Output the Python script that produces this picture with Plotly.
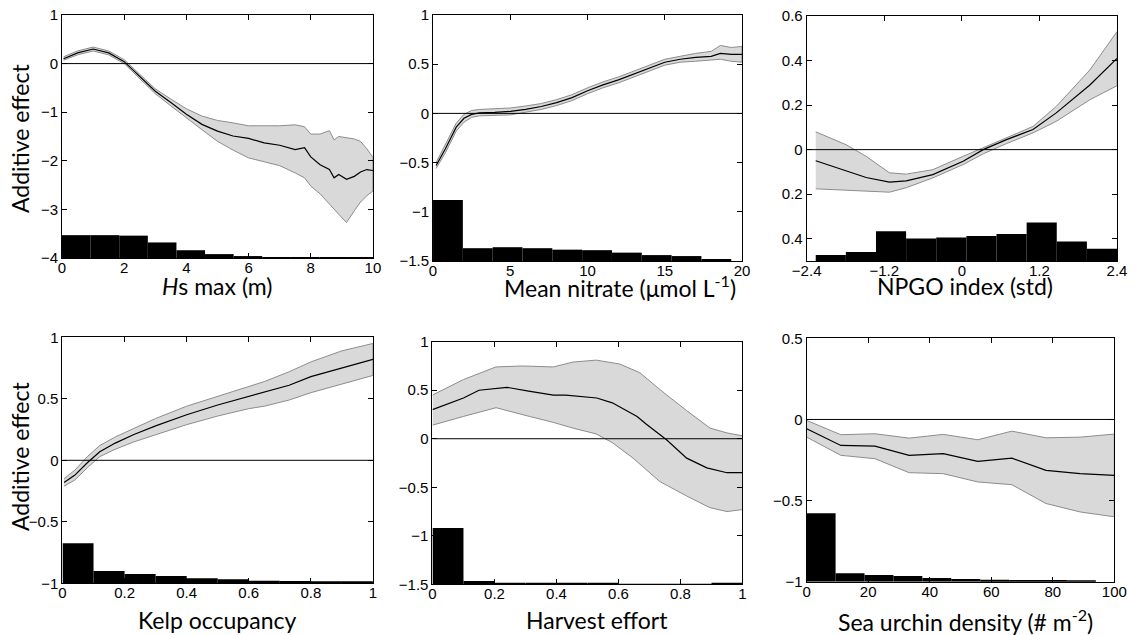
import plotly.graph_objects as go

# ---------------- Hs max (m) ----------------
hs_x = [0.05, 0.5, 1.0, 1.5, 2.0, 2.5, 3.0, 3.5, 4.0, 4.5, 5.0, 5.5, 6.0, 6.5,
        7.0, 7.5, 7.8, 8.0, 8.3, 8.6, 8.75, 8.9, 9.15, 9.4, 9.6, 9.8, 10.0]
hs_fit = [0.10, 0.22, 0.30, 0.22, 0.04, -0.26, -0.57, -0.80, -1.04, -1.25, -1.39, -1.49,
          -1.54, -1.63, -1.68, -1.77, -1.73, -1.92, -2.08, -2.18, -2.35, -2.28, -2.38,
          -2.32, -2.23, -2.18, -2.20]
hs_up = [0.14, 0.26, 0.34, 0.26, 0.08, -0.22, -0.52, -0.73, -0.93, -1.08, -1.17, -1.22,
         -1.28, -1.28, -1.28, -1.26, -1.30, -1.45, -1.45, -1.38, -1.57, -1.50, -1.52,
         -1.55, -1.60, -1.75, -1.93]
hs_lo = [0.07, 0.18, 0.26, 0.18, 0.00, -0.30, -0.62, -0.87, -1.12, -1.36, -1.60, -1.78,
         -1.94, -2.02, -2.10, -2.25, -2.35, -2.52, -2.68, -2.90, -3.00, -3.10, -3.27,
         -3.03, -2.85, -2.72, -2.62]
hs_bin_mid = [0.46, 1.38, 2.30, 3.22, 4.14, 5.06, 5.98, 6.90, 7.82, 8.74, 9.66]
hs_bin_top = [-3.53, -3.53, -3.54, -3.68, -3.84, -3.92, -3.96, -3.98, -3.985, -3.99, -3.995]

# ---------------- Mean nitrate ----------------
no3_x = [0.2, 0.8, 1.5, 2.0, 2.5, 3.0, 4.0, 5.0, 6.0, 7.0, 8.0, 9.0, 10.0, 11.0, 12.0,
         13.0, 14.0, 15.0, 16.0, 17.0, 18.0, 18.6, 19.3, 20.0]
no3_fit = [-0.53, -0.36, -0.14, -0.05, -0.01, 0.005, 0.01, 0.02, 0.04, 0.07, 0.11, 0.16,
           0.23, 0.29, 0.34, 0.40, 0.46, 0.52, 0.55, 0.57, 0.58, 0.61, 0.60, 0.60]
no3_up = [-0.50, -0.32, -0.10, -0.01, 0.03, 0.04, 0.05, 0.055, 0.075, 0.10, 0.14, 0.19,
          0.26, 0.32, 0.37, 0.43, 0.49, 0.55, 0.58, 0.61, 0.63, 0.69, 0.67, 0.68]
no3_lo = [-0.56, -0.40, -0.18, -0.09, -0.04, -0.025, -0.02, -0.015, 0.01, 0.04, 0.08, 0.13,
          0.20, 0.26, 0.31, 0.37, 0.43, 0.49, 0.52, 0.53, 0.54, 0.55, 0.53, 0.52]
no3_bin_mid = [0.965, 2.895, 4.825, 6.755, 8.685, 10.615, 12.545, 14.475, 16.405, 18.335]
no3_bin_top = [-0.88, -1.37, -1.36, -1.37, -1.385, -1.39, -1.415, -1.44, -1.45, -1.48]

# ---------------- NPGO index ----------------
npgo_x = [-2.26, -1.79, -1.48, -1.12, -0.86, -0.45, 0.02, 0.33, 0.69, 1.10, 1.46, 1.98, 2.40]
npgo_fit = [-0.05, -0.097, -0.125, -0.146, -0.14, -0.112, -0.052, 0.0, 0.045, 0.09,
            0.165, 0.29, 0.41]
npgo_up = [0.08, 0.022, -0.03, -0.104, -0.11, -0.09, -0.03, 0.008, 0.055, 0.104,
           0.194, 0.358, 0.53]
npgo_lo = [-0.176, -0.18, -0.186, -0.191, -0.171, -0.127, -0.067, -0.019, 0.027, 0.075,
           0.127, 0.224, 0.287]
npgo_bin_mid = [-2.027, -1.561, -1.095, -0.629, -0.163, 0.303, 0.769, 1.235, 1.701, 2.167]
npgo_bin_top = [-0.473, -0.46, -0.367, -0.399, -0.394, -0.388, -0.379, -0.327, -0.412, -0.445]
npgo_ticks = [0.6, 0.4, 0.2, 0, -0.2, -0.4]
npgo_tick_text = ["0.6", "0.4", "0.2", "0", "0.2", "0.4"]

# ---------------- Kelp occupancy ----------------
kelp_x = [0.005, 0.04, 0.08, 0.12, 0.17, 0.23, 0.30, 0.40, 0.50, 0.60, 0.65, 0.73, 0.80,
          0.90, 1.0]
kelp_fit = [-0.18, -0.12, -0.02, 0.07, 0.14, 0.21, 0.28, 0.37, 0.45, 0.52, 0.55, 0.61,
            0.68, 0.75, 0.82]
kelp_up = [-0.15, -0.08, 0.03, 0.12, 0.19, 0.26, 0.34, 0.44, 0.52, 0.60, 0.64, 0.72,
           0.80, 0.89, 0.95]
kelp_lo = [-0.21, -0.16, -0.06, 0.03, 0.09, 0.15, 0.21, 0.29, 0.36, 0.42, 0.44, 0.49,
           0.55, 0.62, 0.69]
kelp_bin_mid = [0.05, 0.15, 0.25, 0.35, 0.45, 0.55, 0.65, 0.75, 0.85, 0.95]
kelp_bin_top = [-0.675, -0.90, -0.924, -0.94, -0.959, -0.967, -0.979, -0.981, -0.99, -0.99]

# ---------------- Harvest effort ----------------
harv_x = [0.0, 0.10, 0.15, 0.24, 0.31, 0.39, 0.43, 0.53, 0.58, 0.66, 0.69, 0.755, 0.82,
          0.885, 0.95, 1.0]
harv_fit = [0.30, 0.42, 0.50, 0.53, 0.49, 0.45, 0.45, 0.42, 0.37, 0.23, 0.15, -0.01,
            -0.20, -0.30, -0.35, -0.35]
harv_up_x = [0.0, 0.10, 0.205, 0.29, 0.39, 0.453, 0.528, 0.604, 0.669, 0.744, 0.82,
             0.895, 0.95, 1.0]
harv_up = [0.45, 0.61, 0.74, 0.75, 0.74, 0.79, 0.81, 0.77, 0.68, 0.48, 0.29, 0.11, 0.06, 0.03]
harv_lo_x = [0.0, 0.10, 0.205, 0.313, 0.388, 0.453, 0.528, 0.58, 0.647, 0.733, 0.82,
             0.895, 0.95, 1.0]
harv_lo = [0.14, 0.23, 0.32, 0.23, 0.17, 0.11, 0.05, -0.04, -0.20, -0.44, -0.59, -0.71,
           -0.75, -0.73]
harv_bin_mid = [0.05, 0.15, 0.25, 0.35, 0.45, 0.55, 0.65, 0.75, 0.85, 0.95]
harv_bin_top = [-0.92, -1.467, -1.49, -1.49, -1.492, -1.493, -1.494, -1.495, -1.495, -1.49]

# ---------------- Sea urchin density ----------------
urch_x = [0, 11.1, 22.2, 33.3, 44.4, 55.6, 66.7, 77.8, 88.9, 100]
urch_fit = [-0.057, -0.16, -0.164, -0.221, -0.211, -0.258, -0.238, -0.314, -0.334, -0.344]
urch_up = [-0.006, -0.094, -0.088, -0.115, -0.092, -0.125, -0.072, -0.113, -0.109, -0.09]
urch_lo = [-0.109, -0.221, -0.242, -0.328, -0.334, -0.385, -0.402, -0.518, -0.57, -0.60]
urch_bin_mid = [4.7, 14.1, 23.5, 32.9, 42.3, 51.7, 61.1, 70.5, 79.9, 89.3]
urch_bin_top = [-0.578, -0.948, -0.958, -0.964, -0.977, -0.983, -0.988, -0.99, -0.99, -0.993]

TICK_FONT = dict(family="Liberation Sans, Arial, sans-serif", size=15, color="black")
TITLE_FONT = dict(family="Lato, Open Sans, sans-serif", size=23, color="black")
BAND_FILL = "#d9d9d9"
BAND_EDGE = "#8c8c8c"

panels = [
    dict(x=hs_x, fit=hs_fit, xu=hs_x, up=hs_up, xl=hs_x, lo=hs_lo,
         hx=hs_bin_mid, htop=hs_bin_top, hw=0.92,
         xr=[0, 10], yr=[-4, 1], xt=[0, 2, 4, 6, 8, 10], yt=[1, 0, -1, -2, -3, -4],
         xd=[0.0546, 0.3283], yd=[0.5937, 0.9764],
         title="<i>H</i>s max (m)", tx=217, ty=286),
    dict(x=no3_x, fit=no3_fit, xu=no3_x, up=no3_up, xl=no3_x, lo=no3_lo,
         hx=no3_bin_mid, htop=no3_bin_top, hw=1.93,
         xr=[0, 20], yr=[-1.5, 1], xt=[0, 5, 10, 15, 20], yt=[1, 0.5, 0, -0.5, -1, -1.5],
         xd=[0.3812, 0.6532], yd=[0.589, 0.9764],
         title="Mean nitrate (μmol L<sup>-1</sup>)", tx=620, ty=286),
    dict(x=npgo_x, fit=npgo_fit, xu=npgo_x, up=npgo_up, xl=npgo_x, lo=npgo_lo,
         hx=npgo_bin_mid, htop=npgo_bin_top, hw=0.466,
         xr=[-2.4, 2.4], yr=[-0.5, 0.6], xt=[-2.4, -1.2, 0, 1.2, 2.4], yt=npgo_ticks,
         ytext=npgo_tick_text,
         xd=[0.7101, 0.9833], yd=[0.589, 0.9748],
         title="NPGO index (std)", tx=965, ty=286),
    dict(x=kelp_x, fit=kelp_fit, xu=kelp_x, up=kelp_up, xl=kelp_x, lo=kelp_lo,
         hx=kelp_bin_mid, htop=kelp_bin_top, hw=0.1,
         xr=[0, 1], yr=[-1, 1], xt=[0, 0.2, 0.4, 0.6, 0.8, 1], yt=[1, 0.5, 0, -0.5, -1],
         xd=[0.0550, 0.3283], yd=[0.0814, 0.4688],
         title="Kelp occupancy", tx=217, ty=620),
    dict(x=harv_x, fit=harv_fit, xu=harv_up_x, up=harv_up, xl=harv_lo_x, lo=harv_lo,
         hx=harv_bin_mid, htop=harv_bin_top, hw=0.1,
         xr=[0, 1], yr=[-1.5, 1], xt=[0, 0.2, 0.4, 0.6, 0.8, 1],
         yt=[1, 0.5, 0, -0.5, -1, -1.5],
         xd=[0.3807, 0.6536], yd=[0.0798, 0.4619],
         title="Harvest effort", tx=597, ty=620),
    dict(x=urch_x, fit=urch_fit, xu=urch_x, up=urch_up, xl=urch_x, lo=urch_lo,
         hx=urch_bin_mid, htop=urch_bin_top, hw=9.4,
         xr=[0, 100], yr=[-1, 0.5], xt=[0, 20, 40, 60, 80, 100], yt=[0.5, 0, -0.5, -1],
         xd=[0.7101, 0.9809], yd=[0.0839, 0.4672],
         title="Sea urchin density (# m<sup>-2</sup>)", tx=965, ty=620),
]

W, H = 1136, 635
fig = go.Figure()
shapes = []
annotations = []

for i, p in enumerate(panels):
    n = "" if i == 0 else str(i + 1)
    xa, ya = "x" + n, "y" + n
    base = p["yr"][0]

    # histogram of the covariate along the bottom of the panel
    fig.add_trace(go.Bar(
        x=p["hx"], y=[t - base for t in p["htop"]], base=base, width=p["hw"],
        marker=dict(color="black", line=dict(width=0)),
        xaxis=xa, yaxis=ya, hoverinfo="skip"))

    # confidence band
    fig.add_trace(go.Scatter(
        x=p["xu"] + p["xl"][::-1], y=p["up"] + p["lo"][::-1],
        mode="lines", fill="toself", fillcolor=BAND_FILL,
        line=dict(color=BAND_EDGE, width=1),
        xaxis=xa, yaxis=ya, hoverinfo="skip"))

    # fitted additive effect
    fig.add_trace(go.Scatter(
        x=p["x"], y=p["fit"], mode="lines",
        line=dict(color="black", width=1.2),
        xaxis=xa, yaxis=ya))

    # zero reference line
    shapes.append(dict(type="line", xref=xa + " domain", yref=ya,
                       x0=0, x1=1, y0=0, y1=0, layer="above",
                       line=dict(color="black", width=1)))

    axis_common = dict(showline=True, linecolor="black", linewidth=1, mirror="ticks",
                       ticks="inside", ticklen=5, tickcolor="black", tickwidth=1,
                       showgrid=False, zeroline=False, tickfont=TICK_FONT,
                       automargin=False)
    xaxis = dict(axis_common, domain=p["xd"], range=p["xr"], anchor=ya,
                 tickmode="array", tickvals=p["xt"], ticklabelstandoff=-4)
    yaxis = dict(axis_common, domain=p["yd"], range=p["yr"], anchor=xa,
                 tickmode="array", tickvals=p["yt"])
    if "ytext" in p:
        yaxis["ticktext"] = p["ytext"]
    fig.layout["xaxis" + n] = xaxis
    fig.layout["yaxis" + n] = yaxis

    annotations.append(dict(text=p["title"], x=p["tx"] / W, y=1 - p["ty"] / H,
                            xref="paper", yref="paper", xanchor="center",
                            yanchor="middle", showarrow=False, font=TITLE_FONT))

for yc in (139, 457):
    annotations.append(dict(text="Additive effect", x=20 / W, y=1 - yc / H,
                            xref="paper", yref="paper", xanchor="center",
                            yanchor="middle", textangle=-90, showarrow=False,
                            font=TITLE_FONT))

fig.update_layout(
    width=W, height=H, margin=dict(l=0, r=0, t=0, b=0, autoexpand=False),
    paper_bgcolor="white", plot_bgcolor="white", showlegend=False,
    shapes=shapes, annotations=annotations, barmode="overlay",
)

fig.write_html("out.html")
